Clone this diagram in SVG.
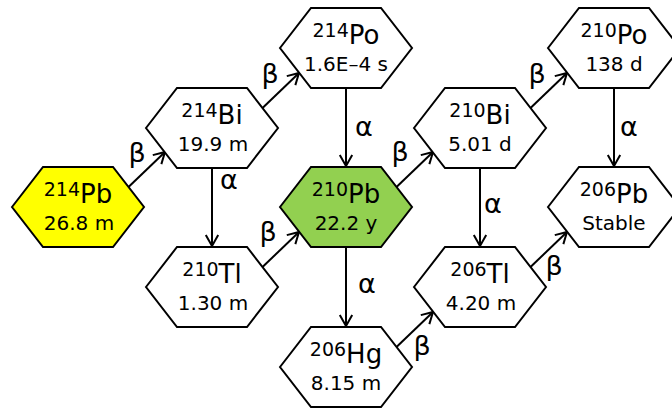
<svg xmlns="http://www.w3.org/2000/svg" xmlns:xlink="http://www.w3.org/1999/xlink" width="672" height="409" viewBox="0 0 672 409">
  <style>
    .hex { stroke: #000; stroke-width: 2; stroke-linejoin: miter; }
    .plain { fill: #fff; }
    .start { fill: #ffff00; }
    .mid { fill: #92d050; }
    text { font-family: "DejaVu Sans", Verdana, sans-serif; fill: #000; text-anchor: middle; }
    .sym { font-size: 26px; }
    .mass { font-size: 19px; }
    .life { font-size: 20px; }
    .lbl { font-size: 27px; }
    .arr { stroke: #000; stroke-width: 2; fill: none; marker-end: url(#head); }
  </style>
  <defs>
    <polygon id="hexshape" points="-66,0 -35,-40 35,-40 66,0 35,40 -35,40"/>
    <marker id="head" markerUnits="userSpaceOnUse" markerWidth="16" markerHeight="16" refX="12" refY="7" orient="auto" viewBox="0 0 16 14">
      <path d="M1,0.8 L12,7 L1,13.2" fill="none" stroke="#000" stroke-width="2"/>
    </marker>
  </defs>

  <!-- decay arrows -->
  <g id="connectors">
    <line class="arr" x1="128.5" y1="187" x2="165" y2="152"/>
    <line class="arr" x1="262.5" y1="108" x2="299" y2="73"/>
    <line class="arr" x1="262.5" y1="267" x2="299" y2="232"/>
    <line class="arr" x1="396.5" y1="187" x2="433" y2="152"/>
    <line class="arr" x1="530.5" y1="108" x2="567" y2="73"/>
    <line class="arr" x1="396.5" y1="347" x2="433" y2="312"/>
    <line class="arr" x1="530.5" y1="267" x2="567" y2="232"/>
    <line class="arr" x1="212" y1="168" x2="212" y2="246"/>
    <line class="arr" x1="346" y1="88" x2="346" y2="166"/>
    <line class="arr" x1="346" y1="247" x2="346" y2="326"/>
    <line class="arr" x1="480" y1="168" x2="480" y2="246"/>
    <line class="arr" x1="614" y1="88" x2="614" y2="166"/>
    <text class="lbl" x="137" y="162">β</text>
    <text class="lbl" x="270" y="83">β</text>
    <text class="lbl" x="268" y="241">β</text>
    <text class="lbl" x="400" y="161">β</text>
    <text class="lbl" x="537" y="83">β</text>
    <text class="lbl" x="422" y="355">β</text>
    <text class="lbl" x="554" y="275">β</text>
    <text class="lbl" x="229" y="189">α</text>
    <text class="lbl" x="364" y="136">α</text>
    <text class="lbl" x="367" y="293">α</text>
    <text class="lbl" x="493" y="213">α</text>
    <text class="lbl" x="629" y="136">α</text>
  </g>

  <!-- nuclides -->
  <g id="pb214">
    <use xlink:href="#hexshape" class="hex start" x="78" y="207"/>
    <text class="sym" x="78" y="203"><tspan class="mass" dy="-7">214</tspan><tspan dy="7">Pb</tspan></text>
    <text class="life" x="79" y="230">26.8 m</text>
  </g>
  <g id="bi214">
    <use xlink:href="#hexshape" class="hex plain" x="212" y="128"/>
    <text class="sym" x="212" y="124"><tspan class="mass" dy="-7">214</tspan><tspan dy="7">Bi</tspan></text>
    <text class="life" x="213" y="151">19.9 m</text>
  </g>
  <g id="po214">
    <use xlink:href="#hexshape" class="hex plain" x="346" y="48"/>
    <text class="sym" x="346" y="44"><tspan class="mass" dy="-7">214</tspan><tspan dy="7">Po</tspan></text>
    <text class="life" x="346" y="71">1.6E–4 s</text>
  </g>
  <g id="tl210">
    <use xlink:href="#hexshape" class="hex plain" x="212" y="287"/>
    <text class="sym" x="212" y="283"><tspan class="mass" dy="-7">210</tspan><tspan dy="7">Tl</tspan></text>
    <text class="life" x="213" y="310">1.30 m</text>
  </g>
  <g id="pb210">
    <use xlink:href="#hexshape" class="hex mid" x="346" y="207"/>
    <text class="sym" x="346" y="203"><tspan class="mass" dy="-7">210</tspan><tspan dy="7">Pb</tspan></text>
    <text class="life" x="346" y="230">22.2 y</text>
  </g>
  <g id="hg206">
    <use xlink:href="#hexshape" class="hex plain" x="346" y="367"/>
    <text class="sym" x="346" y="363"><tspan class="mass" dy="-7">206</tspan><tspan dy="7">Hg</tspan></text>
    <text class="life" x="346" y="390">8.15 m</text>
  </g>
  <g id="bi210">
    <use xlink:href="#hexshape" class="hex plain" x="480" y="128"/>
    <text class="sym" x="480" y="124"><tspan class="mass" dy="-7">210</tspan><tspan dy="7">Bi</tspan></text>
    <text class="life" x="480" y="151">5.01 d</text>
  </g>
  <g id="po210">
    <use xlink:href="#hexshape" class="hex plain" x="614" y="48"/>
    <text class="sym" x="614" y="44"><tspan class="mass" dy="-7">210</tspan><tspan dy="7">Po</tspan></text>
    <text class="life" x="614" y="71">138 d</text>
  </g>
  <g id="tl206">
    <use xlink:href="#hexshape" class="hex plain" x="480" y="287"/>
    <text class="sym" x="480" y="283"><tspan class="mass" dy="-7">206</tspan><tspan dy="7">Tl</tspan></text>
    <text class="life" x="481" y="310">4.20 m</text>
  </g>
  <g id="pb206">
    <use xlink:href="#hexshape" class="hex plain" x="614" y="207"/>
    <text class="sym" x="614" y="203"><tspan class="mass" dy="-7">206</tspan><tspan dy="7">Pb</tspan></text>
    <text class="life" x="614" y="230">Stable</text>
  </g>
</svg>
